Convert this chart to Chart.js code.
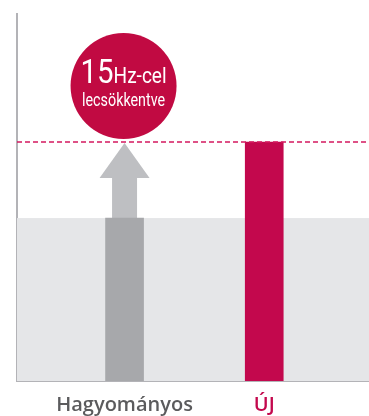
<!DOCTYPE html>
<html>
<head>
<meta charset="utf-8">
<script src="https://cdn.jsdelivr.net/npm/chart.js@4"></script>
<style>
  html, body { margin: 0; padding: 0; background: #fff; }
  #wrap { width: 369px; height: 416px; }
</style>
</head>
<body>
<div id="wrap"><canvas id="flickerChart"></canvas></div>
<script>
const categories = ['Hagyományos', 'ÚJ'];
const levels = [44.4, 65.1];
const labelColors = ['#5b5b5d', '#c3084d'];
const barColors = ['#a7a8ab', '#c3084d'];
const badgeBig = '15';
const badgeUnit = 'Hz-cel';
const badgeSub = 'lecsökkentve';

// draws text squeezed to a width, the original uses a condensed face
function squeezed(ctx, text, x, y, font, width) {
  ctx.font = font;
  const w = ctx.measureText(text).width;
  const k = Math.min(1, width / w);
  ctx.save();
  ctx.translate(x, y);
  ctx.scale(k, 1);
  ctx.fillText(text, 0, 0);
  ctx.restore();
  return w * k;
}

// background band, arrow, dashed level and the red badge
const overlay = {
  id: 'overlay',
  beforeDatasetsDraw(chart) {
    const { ctx, chartArea: a, scales: { x, y } } = chart;
    const yOld = y.getPixelForValue(levels[0]);
    const yNew = y.getPixelForValue(levels[1]);
    ctx.save();
    ctx.fillStyle = '#e5e6e8';
    ctx.fillRect(a.left, yOld, a.right - a.left, a.bottom - yOld);

    const cx = x.getPixelForValue(0);
    const tipY = yNew + 1;
    const headH = 35;
    ctx.fillStyle = '#bebfc2';
    ctx.fillRect(cx - 12.5, tipY + headH - 1, 25, yOld - (tipY + headH - 1));
    ctx.beginPath();
    ctx.moveTo(cx, tipY);
    ctx.lineTo(cx + 25, tipY + headH);
    ctx.lineTo(cx - 25, tipY + headH);
    ctx.closePath();
    ctx.fill();
    ctx.restore();
  },
  afterDatasetsDraw(chart) {
    const { ctx, chartArea: a, scales: { x, y } } = chart;
    const yNew = y.getPixelForValue(levels[1]);
    ctx.save();
    ctx.strokeStyle = '#d4185f';
    ctx.lineWidth = 1.5;
    ctx.setLineDash([5, 3]);
    ctx.beginPath();
    ctx.moveTo(a.left, yNew);
    ctx.lineTo(a.right, yNew);
    ctx.stroke();
    ctx.setLineDash([]);

    const r = 53;
    const cx = x.getPixelForValue(0) - 1;
    const cy = yNew - 3 - r;
    ctx.fillStyle = '#c10a42';
    ctx.beginPath();
    ctx.arc(cx, cy, r, 0, Math.PI * 2);
    ctx.fill();

    ctx.fillStyle = '#fff';
    ctx.textBaseline = 'alphabetic';
    ctx.textAlign = 'left';
    const fam = '"Roboto", sans-serif';
    // measure both parts of the first line to centre it
    ctx.font = '34px ' + fam;
    const w1 = ctx.measureText(badgeBig).width;
    ctx.font = '22px ' + fam;
    const w2 = ctx.measureText(badgeUnit).width;
    const k = Math.min(1, 86 / (w1 + w2));
    let sx = cx - (w1 + w2) * k / 2;
    const d = squeezed(ctx, badgeBig, sx, cy - 3, '34px ' + fam, w1 * k);
    squeezed(ctx, badgeUnit, sx + d, cy - 3, '22px ' + fam, w2 * k);
    ctx.font = '18px ' + fam;
    const w3 = Math.min(83, ctx.measureText(badgeSub).width);
    squeezed(ctx, badgeSub, cx - w3 / 2, cy + 20, '18px ' + fam, w3);
    ctx.restore();
  }
};

new Chart(document.getElementById('flickerChart').getContext('2d'), {
  type: 'bar',
  data: {
    datasets: [{
      data: categories.map((c, i) => ({ x: i, y: levels[i] })),
      backgroundColor: barColors,
      barThickness: 38
    }]
  },
  options: {
    responsive: true,
    maintainAspectRatio: false,
    animation: false,
    layout: { padding: { left: 17, right: 0, top: 14, bottom: 0 } },
    plugins: { legend: { display: false }, tooltip: { enabled: false } },
    scales: {
      x: {
        type: 'linear',
        offset: false,
        min: -0.77,
        max: 1.75,
        grid: { display: false, drawTicks: false },
        border: { display: true, color: '#b3b3b7', width: 2 },
        afterBuildTicks: (axis) => { axis.ticks = [{ value: 0 }, { value: 1 }]; },
        afterFit: (axis) => { axis.height = 35; },
        ticks: {
          padding: 12,
          autoSkip: false,
          maxRotation: 0,
          callback: (v) => categories[v],
          color: (ctx) => labelColors[ctx.index],
          font: { family: '"Open Sans", sans-serif', size: 20, weight: '600' }
        }
      },
      y: {
        min: 0,
        max: 100,
        grid: { display: false, drawTicks: false },
        border: { display: true, color: '#b3b3b7', width: 2 },
        ticks: { display: false }
      }
    }
  },
  plugins: [overlay]
});
</script>
</body>
</html>
